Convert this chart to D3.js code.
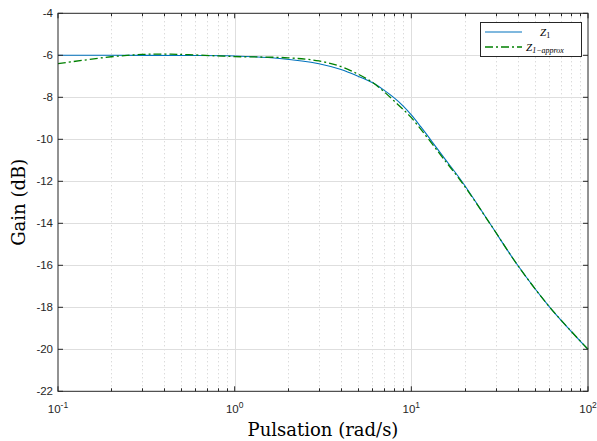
<!DOCTYPE html>
<html><head><meta charset="utf-8">
<script src="https://cdn.jsdelivr.net/npm/d3@7"></script>
<style>
body{margin:0;background:#fff;}
svg{display:block;}
</style></head><body>
<script>
// Data
const freqZ1 = [0.1,0.2,0.5,1,1.8,3,4,5,6,7,8,9,10,11.3,12.8,15,19.3,27.8,40,60.8,100];
const gainZ1 = [-6.0,-6.0,-6.01,-6.03,-6.15,-6.4,-6.68,-7.0,-7.3,-7.66,-8.03,-8.42,-8.84,-9.4,-10.0,-10.78,-12.0,-14.0,-16.0,-18.0,-20.0];
const freqApprox = [0.1,0.2,0.3,0.4,0.55,1,2,3,4,5,6,7,8,9,10,11.3,12.8,15,19.3,27.8,40,60.8,100];
const gainApprox = [-6.4,-6.07,-5.96,-5.94,-5.97,-6.06,-6.12,-6.27,-6.54,-6.9,-7.28,-7.73,-8.18,-8.58,-8.97,-9.52,-10.1,-10.86,-12.05,-14.0,-16.0,-18.0,-20.0];
const yTicks = [-22,-20,-18,-16,-14,-12,-10,-8,-6,-4];
const xTickExps = [-1,0,1,2];
const seriesNames = ["Z1","Z1-approx"];

const W = 597, H = 441;
const m = {left:58, right:9, top:13.3, bottom:49.7};
const svg = d3.select("body").append("svg").attr("width",W).attr("height",H);
const x = d3.scaleLog().domain([0.1,100]).range([m.left, W-m.right]);
const y = d3.scaleLinear().domain([-22,-4]).range([H-m.bottom, m.top]);
const x0 = m.left, x1 = W-m.right, y0 = H-m.bottom, y1 = m.top;

const minor = [];
for (let e=-1;e<2;e++) for (let k=2;k<=9;k++) minor.push(k*Math.pow(10,e));
const major = xTickExps.map(e=>Math.pow(10,e));

// grid
const g = svg.append("g");
g.selectAll(".mg").data(minor).enter().append("line")
  .attr("x1",d=>Math.round(x(d))+0.5).attr("x2",d=>Math.round(x(d))+0.5)
  .attr("y1",y1).attr("y2",y0)
  .attr("stroke","#cccccc").attr("stroke-width",1).attr("stroke-dasharray","1,3");
g.selectAll(".Mg").data(major.slice(1,-1)).enter().append("line")
  .attr("x1",d=>Math.round(x(d))+0.5).attr("x2",d=>Math.round(x(d))+0.5)
  .attr("y1",y1).attr("y2",y0).attr("stroke","#dedede").attr("stroke-width",1);
g.selectAll(".yg").data(yTicks.slice(1,-1)).enter().append("line")
  .attr("x1",x0).attr("x2",x1)
  .attr("y1",d=>Math.round(y(d))+0.5).attr("y2",d=>Math.round(y(d))+0.5)
  .attr("stroke","#dedede").attr("stroke-width",1);

// lines
const line = d3.line().x(d=>x(d[0])).y(d=>y(d[1])).curve(d3.curveCatmullRom.alpha(0.5));
svg.append("path").datum(freqZ1.map((f,i)=>[f,gainZ1[i]]))
  .attr("d",line).attr("fill","none").attr("stroke","#0072BD").attr("stroke-width",1.1);
svg.append("path").datum(freqApprox.map((f,i)=>[f,gainApprox[i]]))
  .attr("d",line).attr("fill","none").attr("stroke","#008000").attr("stroke-width",1.3)
  .attr("stroke-dasharray","8,3,2,3");

// axes box
const ax = svg.append("g").attr("stroke","#262626").attr("stroke-width",1);
ax.append("rect").attr("x",x0).attr("y",y1).attr("width",x1-x0).attr("height",y0-y1)
  .attr("fill","none");
// ticks
const tk = (xx,ya,yb)=>ax.append("line").attr("x1",xx).attr("x2",xx).attr("y1",ya).attr("y2",yb);
minor.forEach(d=>{const p=Math.round(x(d))+0.5; tk(p,y0,y0-3); tk(p,y1,y1+3);});
major.forEach(d=>{const p=x(d); tk(p,y0,y0-5); tk(p,y1,y1+5);});
yTicks.forEach(d=>{const p=y(d);
  ax.append("line").attr("x1",x0).attr("x2",x0+5).attr("y1",p).attr("y2",p);
  ax.append("line").attr("x1",x1).attr("x2",x1-5).attr("y1",p).attr("y2",p);});

// tick labels
const tf = "Liberation Sans, Arial, sans-serif";
svg.selectAll(".yl").data(yTicks).enter().append("text")
  .attr("x",x0-5).attr("y",d=>y(d)+4).attr("text-anchor","end")
  .attr("font-family",tf).attr("font-size",11.5).attr("fill","#262626").text(d=>d);
xTickExps.forEach(e=>{
  const t = svg.append("text").attr("x",x(Math.pow(10,e))).attr("y",y0+22)
    .attr("text-anchor","middle").attr("font-family",tf).attr("font-size",11.5).attr("fill","#262626");
  t.append("tspan").text("10");
  t.append("tspan").attr("dy",-5).attr("font-size",8.5).text(String(e));
});

// axis labels
const sf = "DejaVu Serif, Liberation Serif, serif";
svg.append("text").attr("x",(x0+x1)/2).attr("y",436).attr("text-anchor","middle")
  .attr("font-family",sf).attr("font-size",18).attr("fill","#000").text("Pulsation (rad/s)");
svg.append("text").attr("transform",`translate(25,${(y0+y1)/2}) rotate(-90)`)
  .attr("text-anchor","middle").attr("font-family",sf).attr("font-size",18).attr("fill","#000")
  .text("Gain (dB)");

// legend
const lg = svg.append("g");
lg.append("rect").attr("x",480.5).attr("y",22.5).attr("width",101).attr("height",34)
  .attr("fill","#fff").attr("stroke","#262626").attr("stroke-width",1);
lg.append("line").attr("x1",485).attr("x2",522).attr("y1",32).attr("y2",32)
  .attr("stroke","#0072BD").attr("stroke-width",1.1);
lg.append("line").attr("x1",485).attr("x2",522).attr("y1",47).attr("y2",47)
  .attr("stroke","#008000").attr("stroke-width",1.3).attr("stroke-dasharray","8,3,2,3");
const lf = "Liberation Serif, DejaVu Serif, serif";
const t1 = lg.append("text").attr("x",540).attr("y",36).attr("font-family",lf)
  .attr("font-size",11).attr("font-style","italic").attr("fill","#000");
t1.append("tspan").text("Z");
t1.append("tspan").attr("dy",2).attr("font-size",8).attr("font-style","normal").text("1");
const t2 = lg.append("text").attr("x",526).attr("y",51).attr("font-family",lf)
  .attr("font-size",11).attr("font-style","italic").attr("fill","#000");
t2.append("tspan").text("Z");
t2.append("tspan").attr("dy",2).attr("font-size",8).text("1−approx");
</script>
</body></html>
